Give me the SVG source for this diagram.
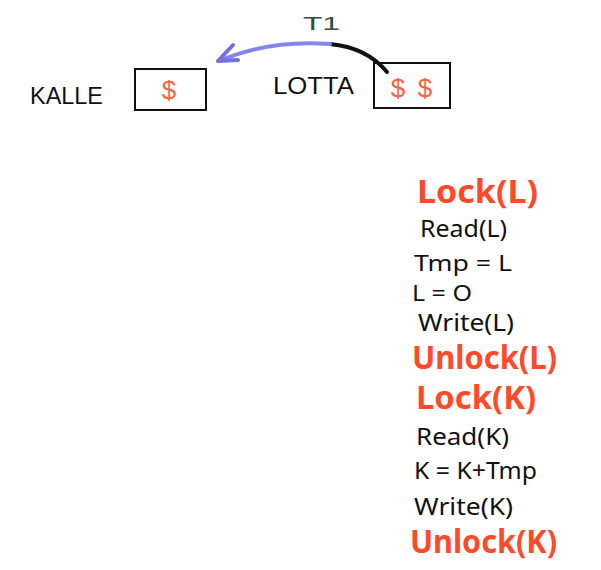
<svg xmlns="http://www.w3.org/2000/svg" width="601" height="570" viewBox="0 0 601 570">
<style>
.lbl{font-family:"Liberation Sans",Arial,sans-serif;fill:#111;font-size:24px}
.blk{font-family:"Noto Sans","DejaVu Sans",sans-serif;fill:#111;font-size:24px}
.sm{font-size:22px}
.red{font-family:"Noto Sans","DejaVu Sans",sans-serif;fill:#ff4a2a;font-size:32px;font-weight:bold}
.dol{font-family:"Liberation Sans",Arial,sans-serif;fill:#ff6040;font-size:26px}
.box{fill:none;stroke:#111;stroke-width:2}
</style>
<rect width="601" height="570" fill="#fff"/>
<g id="kalle">
<text class="lbl" x="30" y="104" textLength="73" lengthAdjust="spacingAndGlyphs">KALLE</text>
<rect class="box" x="135" y="69" width="71" height="41"/>
<text class="dol" x="169" y="99" text-anchor="middle">$</text>
</g>
<g id="lotta">
<text class="lbl" x="273" y="94" textLength="81" lengthAdjust="spacingAndGlyphs">LOTTA</text>
<rect class="box" x="374" y="63" width="76" height="45"/>
<text class="dol" x="398" y="97" text-anchor="middle">$</text>
<text class="dol" x="425" y="97" text-anchor="middle">$</text>
</g>
<g id="connectors">
<path d="M387,72 C372,54 352,46 330,44" fill="none" stroke="#111" stroke-width="4" stroke-linecap="round"/>
<path d="M330,44 C280,40 245,50 219,61" fill="none" stroke="#8585ee" stroke-width="4" stroke-linecap="round"/>
<path d="M218,61 L233,45 M218,61 L238,60" fill="none" stroke="#7070e0" stroke-width="4" stroke-linecap="round"/>
<text x="303" y="30" font-family="Liberation Sans,Arial,sans-serif" font-size="19" fill="#2f4f3f" textLength="37" lengthAdjust="spacingAndGlyphs">T1</text>
</g>
<g id="steps">
<text class="red" x="417" y="203" textLength="121" lengthAdjust="spacingAndGlyphs">Lock(L)</text>
<text class="blk" x="420" y="237" textLength="87" lengthAdjust="spacingAndGlyphs">Read(L)</text>
<text class="blk sm" x="414" y="271" textLength="98" lengthAdjust="spacingAndGlyphs">Tmp = L</text>
<text class="blk sm" x="412" y="301" textLength="60" lengthAdjust="spacingAndGlyphs">L = O</text>
<text class="blk" x="418" y="331" textLength="96" lengthAdjust="spacingAndGlyphs">Write(L)</text>
<text class="red" x="412" y="369" textLength="145" lengthAdjust="spacingAndGlyphs">Unlock(L)</text>
<text class="red" x="416" y="409" textLength="120" lengthAdjust="spacingAndGlyphs">Lock(K)</text>
<text class="blk" x="416" y="445" textLength="93" lengthAdjust="spacingAndGlyphs">Read(K)</text>
<text class="blk" x="414" y="479" textLength="123" lengthAdjust="spacingAndGlyphs">K = K+Tmp</text>
<text class="blk" x="414" y="515" textLength="99" lengthAdjust="spacingAndGlyphs">Write(K)</text>
<text class="red" x="410" y="553" textLength="147" lengthAdjust="spacingAndGlyphs">Unlock(K)</text>
</g>
</svg>
